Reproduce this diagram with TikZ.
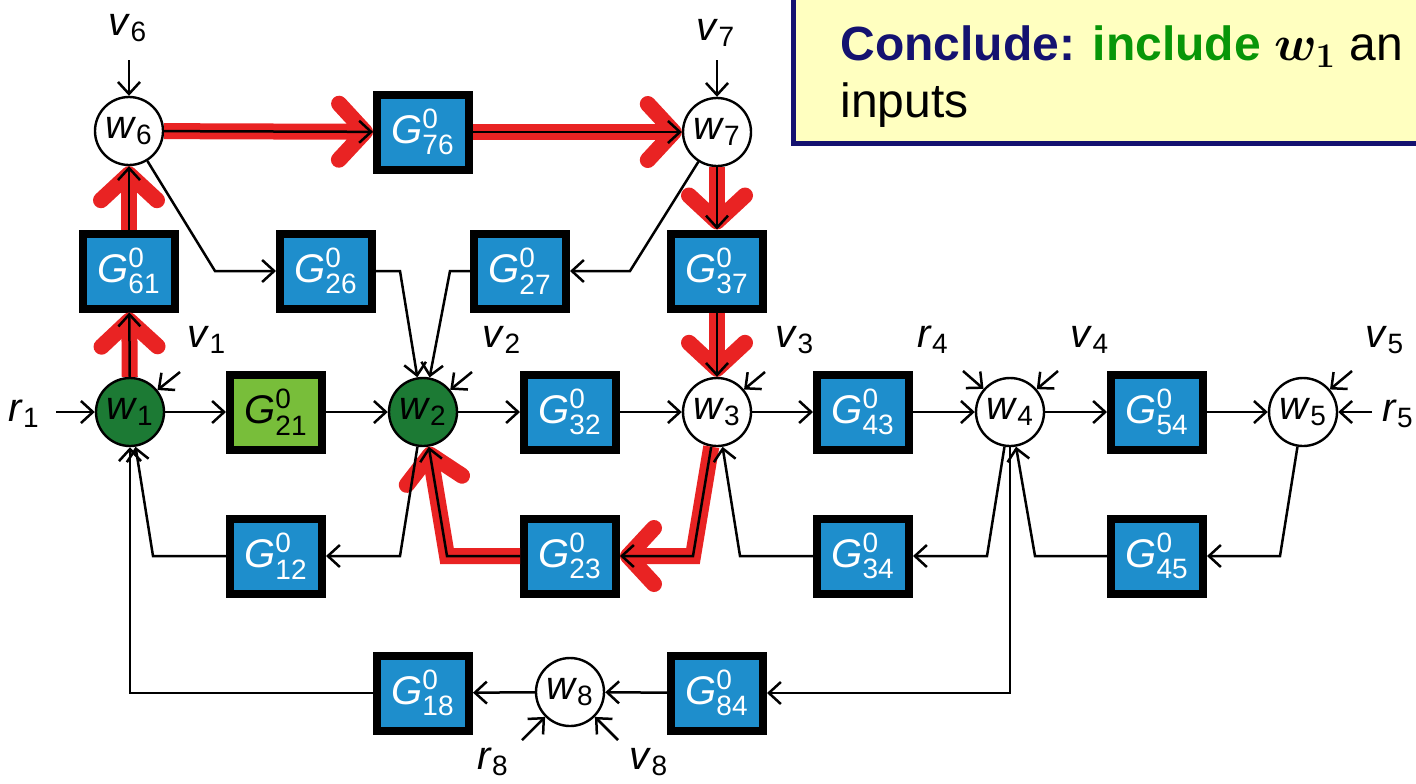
\documentclass[tikz,border=0pt]{standalone}
\usepackage{amsmath, bm}
\usepackage{fontspec}
\setmainfont{Liberation Sans}
\usetikzlibrary{arrows.meta}
\definecolor{hotred}{RGB}{233,35,35}
\definecolor{nodegreen}{RGB}{28,122,52}
\definecolor{boxblue}{RGB}{30,142,204}
\definecolor{boxgreen}{RGB}{120,190,58}
\definecolor{notenavy}{RGB}{20,18,112}
\definecolor{noteyellow}{RGB}{255,255,192}
\definecolor{notegreen}{RGB}{8,150,8}
\newcommand{\wv}[2]{\textit{#1}$_{\text{#2}}$}
\newcommand{\Gz}[1]{\textit{G}$^{\text{0}}_{\text{#1}}$}

\begin{document}
\begin{tikzpicture}[x=0.5pt, y=-0.5pt, font=\fontsize{20}{24}\selectfont,
        sum/.style={draw, circle, line width=1.2pt, minimum size=34pt, inner sep=0pt, fill=white},
        sumon/.style={sum, fill=nodegreen},
        blk/.style={draw, line width=4pt, fill=boxblue, text=white, minimum width=46pt, minimum height=37.5pt, inner sep=0pt},
        blkon/.style={blk, fill=boxgreen, text=black},
        lab/.style={inner sep=0pt},
        lnk/.style={line width=1.25pt, -{Straight Barb[length=6pt, width=11pt]}},
        hot/.style={line width=8pt, hotred, -{Straight Barb[length=13pt, width=28pt, round]}}]
    \useasboundingbox (0,0) rectangle (1416,783);
    \clip (0,0) rectangle (1416,783);
    \node[sumon] (w1) at (130,412) {\wv{w}{1}};
    \node[sumon] (w2) at (423,412) {\wv{w}{2}};
    \node[sum] (w3) at (717,412) {\wv{w}{3}};
    \node[sum] (w4) at (1010,412) {\wv{w}{4}};
    \node[sum] (w5) at (1303,412) {\wv{w}{5}};
    \node[sum] (w6) at (129,131) {\wv{w}{6}};
    \node[sum] (w7) at (717,132) {\wv{w}{7}};
    \node[sum] (w8) at (570,692) {\wv{w}{8}};
    \node[blk] (G76) at (423,132) {\Gz{76}};
    \node[blk] (G61) at (129,271) {\Gz{61}};
    \node[blk] (G26) at (326,271) {\Gz{26}};
    \node[blk] (G27) at (520,271) {\Gz{27}};
    \node[blk] (G37) at (717,271) {\Gz{37}};
    \node[blkon] (G21) at (276,412) {\Gz{21}};
    \node[blk] (G32) at (570,412) {\Gz{32}};
    \node[blk] (G43) at (863,412) {\Gz{43}};
    \node[blk] (G54) at (1157,412) {\Gz{54}};
    \node[blk] (G12) at (276,556) {\Gz{12}};
    \node[blk] (G23) at (570,556) {\Gz{23}};
    \node[blk] (G34) at (863,556) {\Gz{34}};
    \node[blk] (G45) at (1157,556) {\Gz{45}};
    \node[blk] (G18) at (423,693) {\Gz{18}};
    \node[blk] (G84) at (717,693) {\Gz{84}};
    \node[lab] (r1) at (24,414) {\wv{r}{1}};
    \node[lab, anchor=east] (r5) at (1414,414) {\wv{r}{5}};
    \node[lab] (v1) at (207,340) {\wv{v}{1}};
    \node[lab] (v2) at (502,340) {\wv{v}{2}};
    \node[lab] (v3) at (795,340) {\wv{v}{3}};
    \node[lab] (r4) at (933,340) {\wv{r}{4}};
    \node[lab] (v4) at (1090,340) {\wv{v}{4}};
    \node[lab] (v5) at (1385,340) {\wv{v}{5}};
    \node[lab] (v6) at (128,28) {\wv{v}{6}};
    \node[lab] (v7) at (716,33) {\wv{v}{7}};
    \node[lab] (r8) at (493,762) {\wv{r}{8}};
    \node[lab] (v8) at (649,762) {\wv{v}{8}};
    \coordinate (r1in) at (56,412);
    \coordinate (r5in) at (1372,412);
    \coordinate (v1in) at (180,372);
    \coordinate (v2in) at (472,372);
    \coordinate (v3in) at (765,372);
    \coordinate (r4in) at (963,371);
    \coordinate (v4in) at (1058,371);
    \coordinate (v5in) at (1352,371);
    \coordinate (v6in) at (129,60);
    \coordinate (v7in) at (717,60);
    \coordinate (r8in) at (522,740);
    \coordinate (v8in) at (618,740);
    \draw[hot] (w1) -- (G61);
    \draw[hot] (G61) -- (w6);
    \draw[hot] (w6) -- (G76);
    \draw[hot] (G76) -- (w7);
    \draw[hot] (w7) -- (G37);
    \draw[hot] (G37) -- (w3);
    \draw[hot] (w3) -- (693,556) -- (G23);
    \draw[hot] (G23) -- (447,556) -- (w2);
    \draw[lnk] (r1in) -- (w1);
    \draw[lnk] (w1) -- (G21);
    \draw[lnk] (G21) -- (w2);
    \draw[lnk] (w2) -- (G32);
    \draw[lnk] (G32) -- (w3);
    \draw[lnk] (w3) -- (G43);
    \draw[lnk] (G43) -- (w4);
    \draw[lnk] (w4) -- (G54);
    \draw[lnk] (G54) -- (w5);
    \draw[lnk] (r5in) -- (w5);
    \draw[lnk] (v1in) -- (w1);
    \draw[lnk] (v2in) -- (w2);
    \draw[lnk] (v3in) -- (w3);
    \draw[lnk] (r4in) -- (w4);
    \draw[lnk] (v4in) -- (w4);
    \draw[lnk] (v5in) -- (w5);
    \draw[lnk] (v6in) -- (w6);
    \draw[lnk] (v7in) -- (w7);
    \draw[lnk] (r8in) -- (w8);
    \draw[lnk] (v8in) -- (w8);
    \draw[lnk] (w1) -- (G61);
    \draw[lnk] (G61) -- (w6);
    \draw[lnk] (w6) -- (G76);
    \draw[lnk] (G76) -- (w7);
    \draw[lnk] (w7) -- (G37);
    \draw[lnk] (G37) -- (w3);
    \draw[lnk] (w6) -- (215,271) -- (G26);
    \draw[lnk] (G26) -- (400,271) -- (w2);
    \draw[lnk] (w7) -- (630,271) -- (G27);
    \draw[lnk] (G27) -- (450,271) -- (w2);
    \draw[lnk] (w3) -- (693,556) -- (G23);
    \draw[lnk] (G23) -- (447,556) -- (w2);
    \draw[lnk] (w2) -- (400,556) -- (G12);
    \draw[lnk] (G12) -- (153,556) -- (w1);
    \draw[lnk] (w4) -- (987,556) -- (G34);
    \draw[lnk] (G34) -- (740,556) -- (w3);
    \draw[lnk] (w5) -- (1280,556) -- (G45);
    \draw[lnk] (G45) -- (1035,556) -- (w4);
    \draw[lnk] (w4) -- (1010,693) -- (G84);
    \draw[lnk] (G84) -- (w8);
    \draw[lnk] (w8) -- (G18);
    \draw[lnk] (G18) -- (130,693) -- (w1);
    \draw[notenavy, line width=2.5pt, fill=noteyellow] (793,-20) rectangle (1440,143);
    \node[anchor=base west, align=left, inner sep=0pt, font=\fontsize{24}{28.5}\selectfont] (note) at (840,117)
        {\textcolor{notenavy}{\textbf{Conclude:}} \textcolor{notegreen}{\textbf{include}} $\bm{w_1}$ an\\inputs};
\end{tikzpicture}
\end{document}
